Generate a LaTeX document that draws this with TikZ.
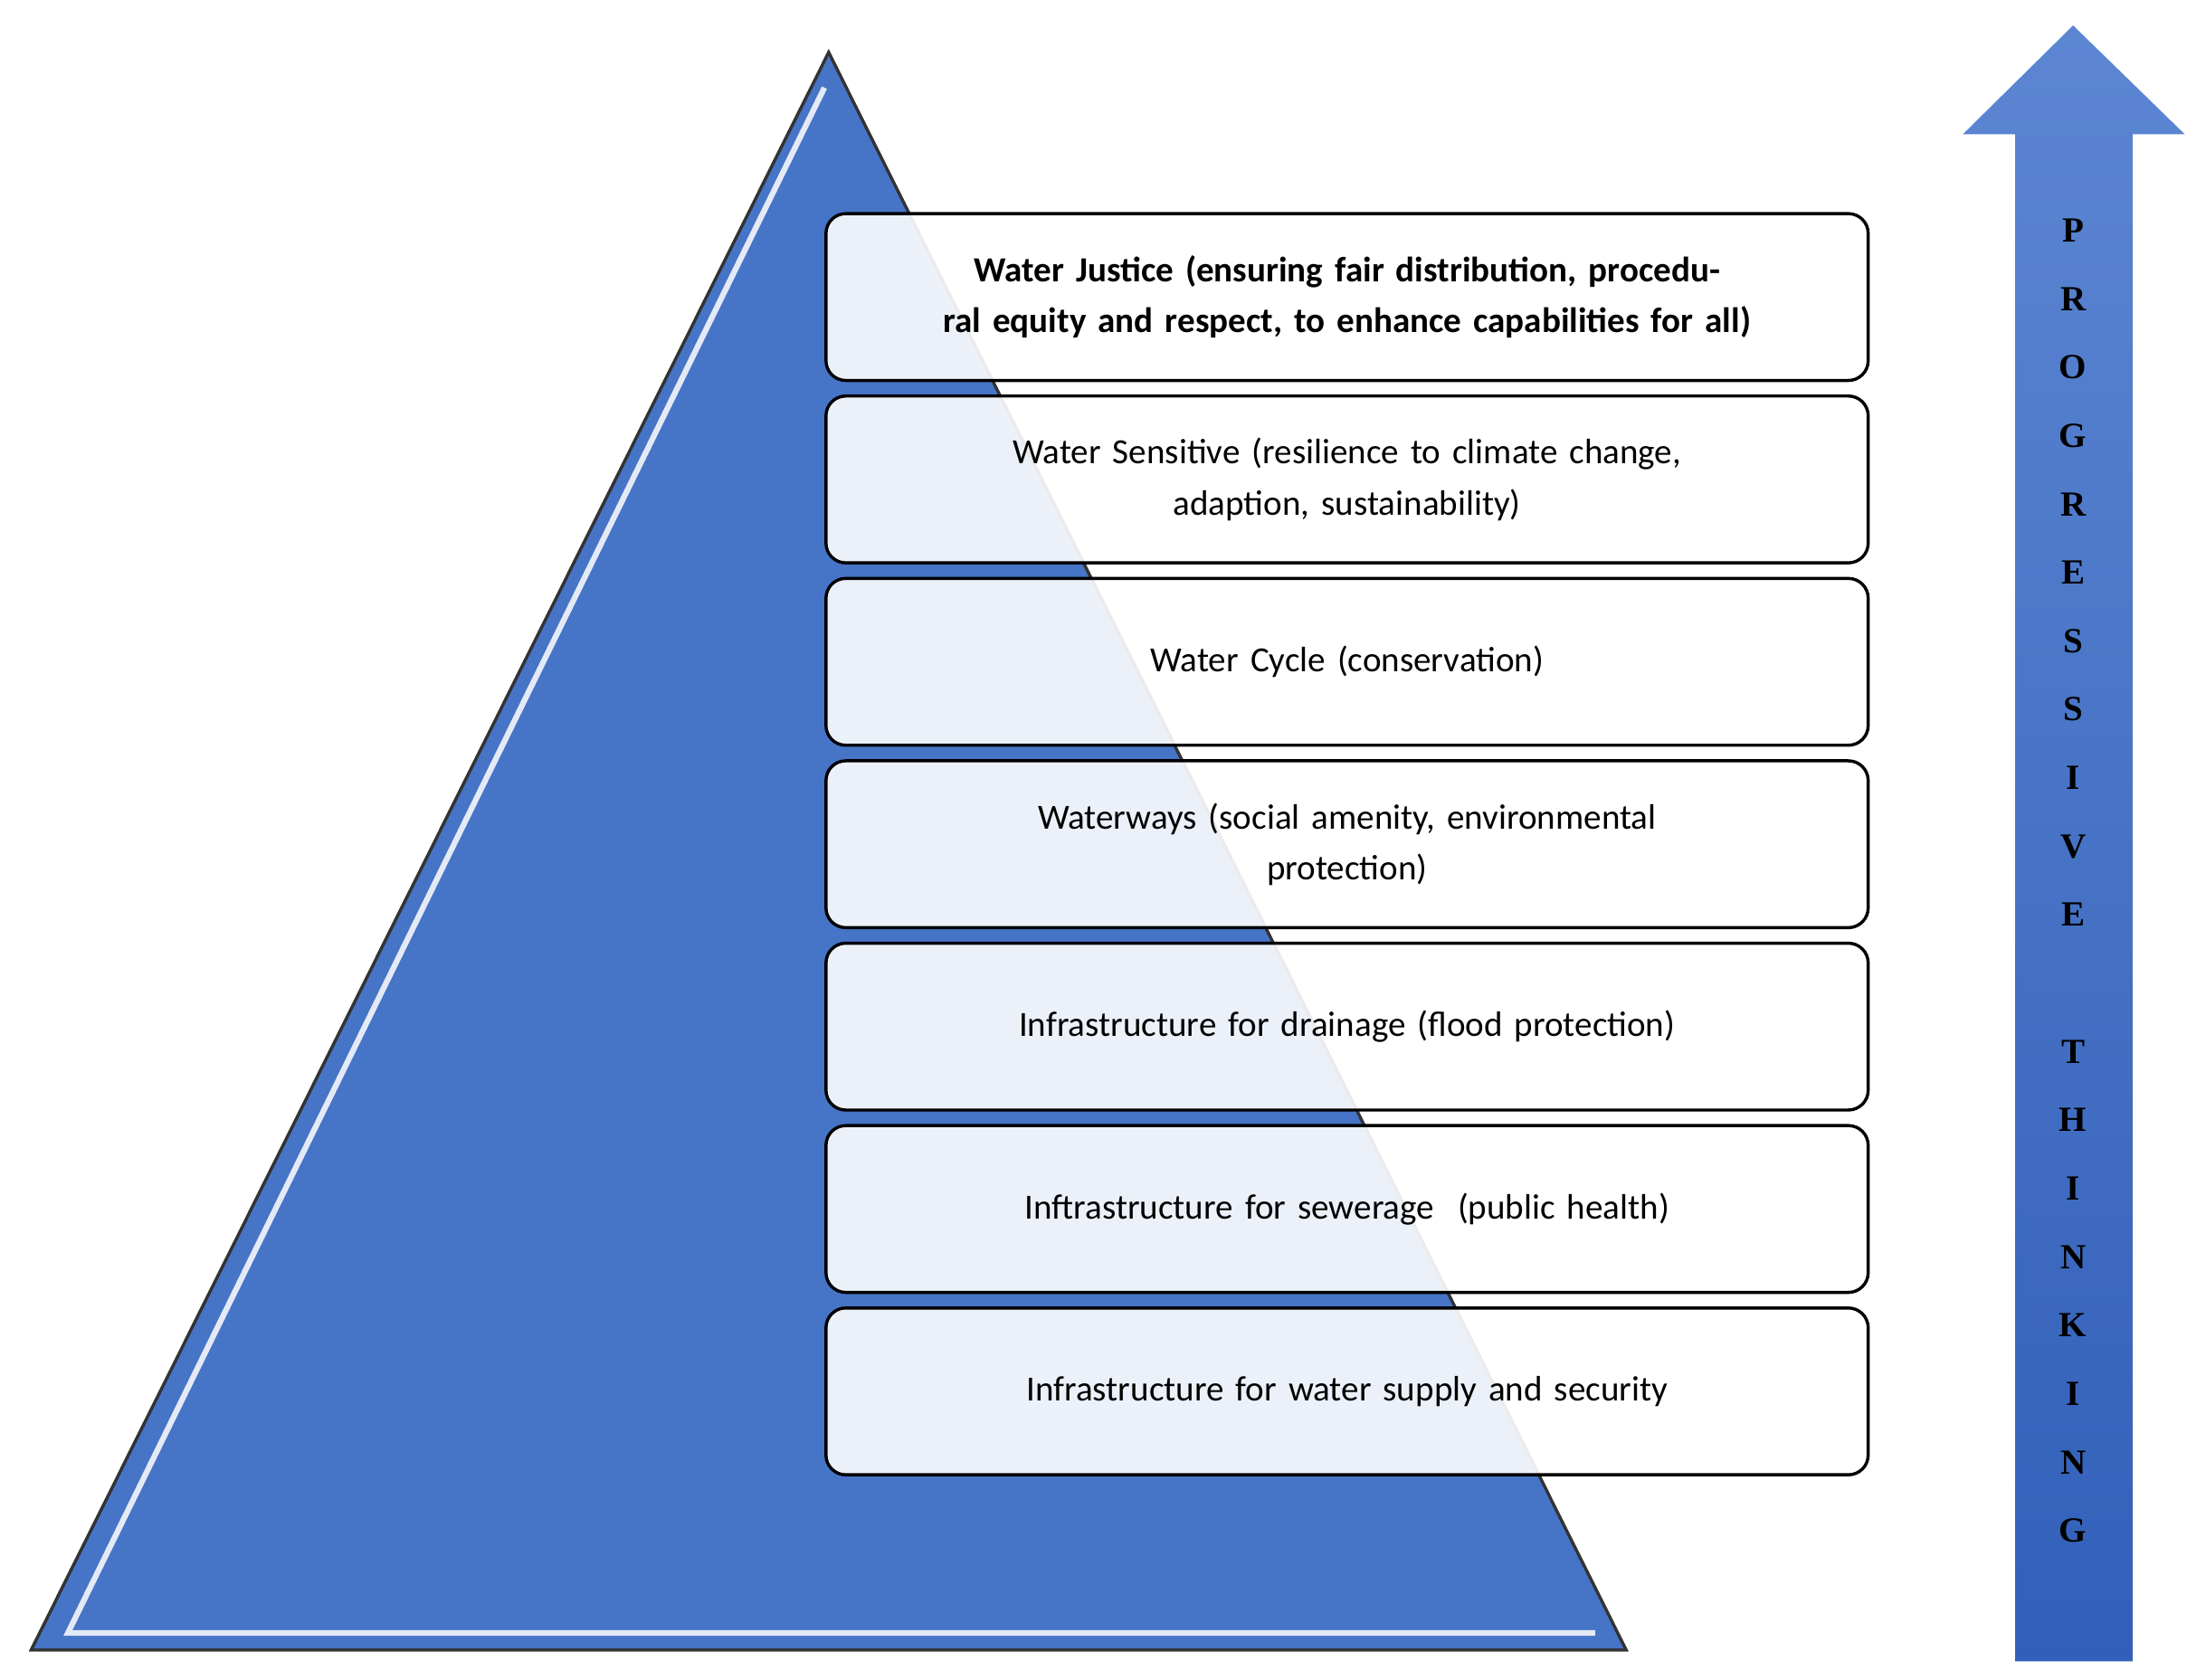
\documentclass[tikz,border=0pt]{standalone}
\usepackage{fontspec}
\setmainfont{Carlito}
\newfontfamily\serifb{Liberation Serif}
\definecolor{tri}{HTML}{4674C6}
\definecolor{arT}{HTML}{5C86D2}
\definecolor{arB}{HTML}{3260B9}
\begin{document}
\begin{tikzpicture}[x=1pt,y=-1pt,
  box/.style={draw=black,line width=2.2pt,rounded corners=14pt,fill=white,fill opacity=0.9,text opacity=1,
    minimum width=737pt,minimum height=118pt,anchor=north west,align=center,font=\fontsize{25}{36}\selectfont,text width=700pt},
  lt/.style={font=\serifb\bfseries\fontsize{25}{25}\selectfont}]
\useasboundingbox (0,0) rectangle (1560,1188);
\fill[tri,draw=black!80,line width=2pt] (586,37) coordinate(A) -- (1150,1167) coordinate(C) -- (22,1167) coordinate(B) -- cycle;
\draw[white!85!tri,line width=4pt] (583,62) -- (48,1155) -- (1128,1155);
\draw[black!80,line width=2pt] (586,37) -- (1150,1167) -- (22,1167) -- cycle;
\node[box,font=\bfseries\fontsize{25}{36}\selectfont] (b1) at (583,150) {Water Justice (ensuring fair distribution, procedural equity and respect, to enhance capabilities for all)};
\node[box] (b2) at (583,279) {Water Sensitive (resilience to climate change,\\ adaption, sustainability)};
\node[box] (b3) at (583,408) {Water Cycle (conservation)};
\node[box] (b4) at (583,537) {Waterways (social amenity, environmental\\ protection)};
\node[box] (b5) at (583,666) {Infrastructure for drainage (flood protection)};
\node[box] (b6) at (583,795) {Inftrastructure for sewerage~~(public health)};
\node[box] (b7) at (583,924) {Infrastructure for water supply and security};
\shade[top color=arT,bottom color=arB] (1425,1175) -- (1425,95) -- (1388,95) -- (1466,18) -- (1545,95) -- (1508,95) -- (1508,1175) -- cycle;
\foreach \l [count=\i from 0] in {P,R,O,G,R,E,S,S,I,V,E,{},T,H,I,N,K,I,N,G}
  \node[lt] (l\i) at (1466,163+48.4*\i) {\l};
\end{tikzpicture}
\end{document}
